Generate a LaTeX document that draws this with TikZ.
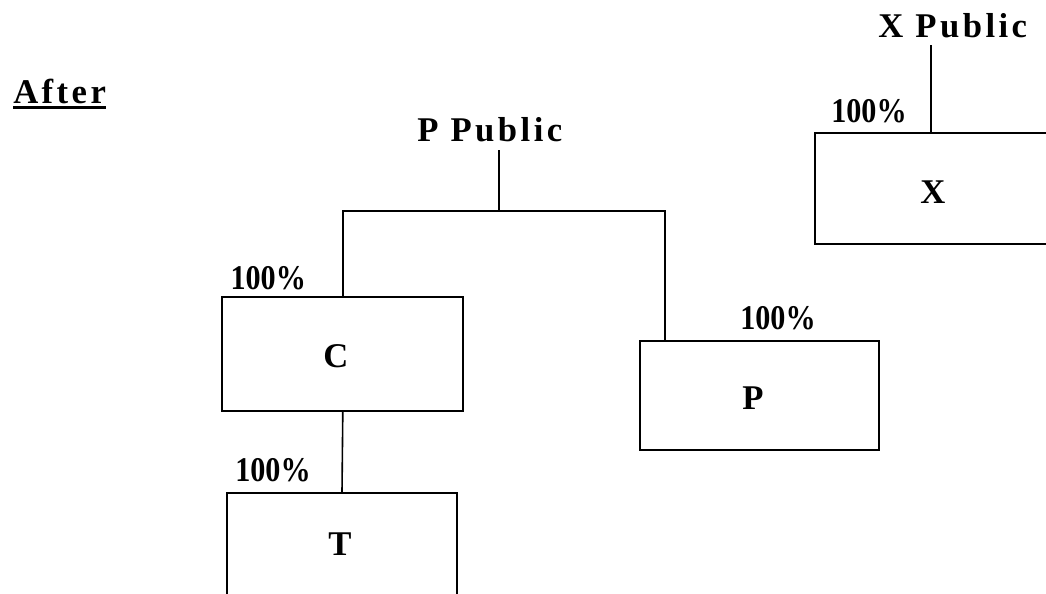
\documentclass[tikz,border=0pt]{standalone}
\usepackage{fontspec}
\setmainfont{Liberation Serif}
\newfontfamily\pctfont[FakeStretch=0.87]{Liberation Serif}
\newfontfamily\pubfont[LetterSpace=10]{Liberation Serif}
\usetikzlibrary{positioning,calc}
\newcommand{\ulafter}[1]{\setbox0\hbox{#1}\rlap{\rule[-4.6pt]{\wd0}{2.3pt}}\box0}
\tikzset{box/.style={draw,line width=1.5pt,inner sep=0pt},boxlabel/.style={inner sep=0pt,font=\bfseries\fontsize{26}{30}\selectfont},link/.style={line width=1.2pt},pct/.style={anchor=base west,inner sep=0pt,font={\pctfont\bfseries\fontsize{26}{30}\selectfont}},pub/.style={anchor=base west,inner sep=0pt,font={\pubfont\bfseries\fontsize{26}{30}\selectfont}}}
\begin{document}
\begin{tikzpicture}[x=0.75pt,y=-0.75pt]
\useasboundingbox (0,0) rectangle (1046,593);
\clip (0,0) rectangle (1046,593);
\node[pub] (after) at (13,103) {\ulafter{After}};
% boxes
\node[box,minimum width=241*0.75pt,minimum height=114*0.75pt] (cbox) at (342.8,353.7) {};
\node[box,minimum width=230*0.75pt,minimum height=140*0.75pt] (tbox) at (342,563) {};
\node[box,minimum width=239*0.75pt,minimum height=109*0.75pt] (pbox) at (759.5,395.5) {};
\node[box,minimum width=236*0.75pt,minimum height=111*0.75pt] (xbox) at (933,188.5) {};
\node[boxlabel] (clabel) at ($(cbox.center)+(-7,2)$) {C};
\node[boxlabel] (tlabel) at ($(tbox.north)+(-2,52)$) {T};
\node[boxlabel] (plabel) at ($(pbox.center)+(-6.5,3)$) {P};
\node[boxlabel] (xlabel) at ($(xbox.center)+(0,4)$) {X};
% owners
\node[pub] (ppub) at (417,141) {P Public};
\node[pub] (xpub) at (878,37) {X Public};
\node[pct] (cpct) at ($(cbox.north west)+(9,-6)$) {100\%};
\node[pct] (tpct) at ($(tbox.north west)+(9,-11)$) {100\%};
\node[pct] (ppct) at ($(pbox.north west)+(101,-11)$) {100\%};
\node[pct] (xpct) at ($(xbox.north west)+(17,-10)$) {100\%};
\coordinate (pjoin) at (499,211);
\coordinate (ptop) at (499,150);
\coordinate (xtop) at (931,45);
\draw[link] (ptop) -- (pjoin);
\draw[link] (cbox.north) |- (pjoin) -| ($(pbox.north west)+(26,0)$);
\draw[link] (cbox.south) -- (tbox.north);
\draw[link] (xtop) -- (xtop |- xbox.north);
\draw[link] ($(xbox.south west)+(28,0)$) -- ($(xbox.south west)+(28,0)$ |- pbox.north);
\end{tikzpicture}
\end{document}
